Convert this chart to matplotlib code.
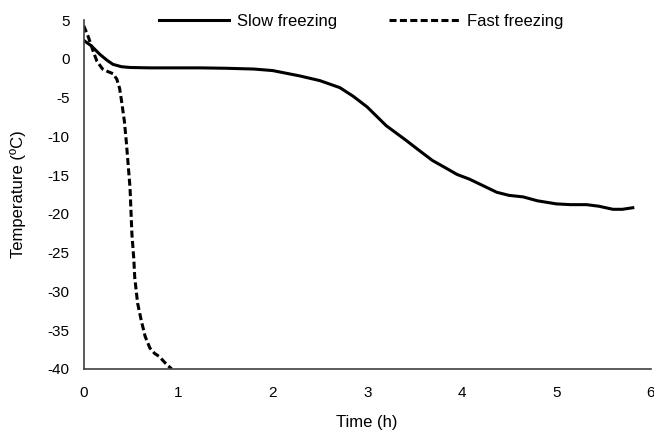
import matplotlib.pyplot as plt

plt.rcParams['font.family'] = ['Liberation Sans', 'DejaVu Sans']
plt.rcParams['axes.unicode_minus'] = False

# slow freezing curve (time h, temperature C)
slow_t = [0.0, 0.08, 0.17, 0.25, 0.31, 0.4, 0.49, 0.7, 1.0, 1.23, 1.5, 1.8, 2.0, 2.29, 2.5, 2.71, 2.85,
          3.0, 3.2, 3.4, 3.56, 3.69, 3.85, 3.95, 4.08, 4.2, 4.37, 4.5, 4.65, 4.8, 5.0, 5.15, 5.32, 5.45,
          5.6, 5.7, 5.81]
slow_T = [2.4, 1.7, 0.6, -0.2, -0.7, -1.0, -1.1, -1.15, -1.15, -1.15, -1.2, -1.3, -1.5, -2.2, -2.8, -3.7, -4.8,
          -6.2, -8.6, -10.4, -11.9, -13.1, -14.2, -14.9, -15.5, -16.2, -17.2, -17.6, -17.8, -18.3, -18.7, -18.8, -18.8, -19.0,
          -19.4, -19.4, -19.2]

# fast freezing curve
fast_t = [0.0, 0.05, 0.1, 0.14, 0.2, 0.25, 0.31, 0.35, 0.38, 0.4, 0.43, 0.45, 0.47, 0.49, 0.51, 0.53,
          0.54, 0.57, 0.61, 0.65, 0.7, 0.75, 0.8, 0.86, 0.93]
fast_T = [4.3, 2.8, 1.0, -0.3, -1.3, -1.6, -1.9, -2.6, -3.8, -5.4, -8.0, -10.6, -13.6, -16.6, -22.6, -25.8,
          -28.2, -31.5, -33.8, -35.8, -37.3, -38.0, -38.4, -39.2, -40.0]

fig = plt.figure(figsize=(6.54, 4.30), dpi=100)
ax = fig.add_axes([0.128, 0.142, 0.867, 0.811])

ax.plot(slow_t, slow_T, color='black', lw=2.2, label='Slow freezing')
ax.plot(fast_t, fast_T, color='black', lw=2.2, ls=(0, (2.3, 1.1)), label='Fast freezing')

ax.set_xlim(0, 6)
ax.set_ylim(-40, 5)
ax.set_xticks(range(0, 7))
ax.set_yticks(range(-40, 6, 5))
ax.tick_params(length=0, labelsize=11)
ax.tick_params(axis='x', pad=12)
ax.tick_params(axis='y', pad=10)
for s in ['top', 'right']:
    ax.spines[s].set_visible(False)
for s in ['left', 'bottom']:
    ax.spines[s].set_color('#404040')
    ax.spines[s].set_linewidth(1.2)

ax.set_xlabel('Time (h)', fontsize=12, labelpad=11)
ax.set_ylabel('Temperature (ºC)', fontsize=12, labelpad=16)

ax.legend(loc='upper center', bbox_to_anchor=(0.49, 1.062), ncol=2, frameon=False, fontsize=12,
          handlelength=4.2, columnspacing=3.1, handletextpad=0.48)

fig.savefig('out.png', dpi=100, facecolor='white')
